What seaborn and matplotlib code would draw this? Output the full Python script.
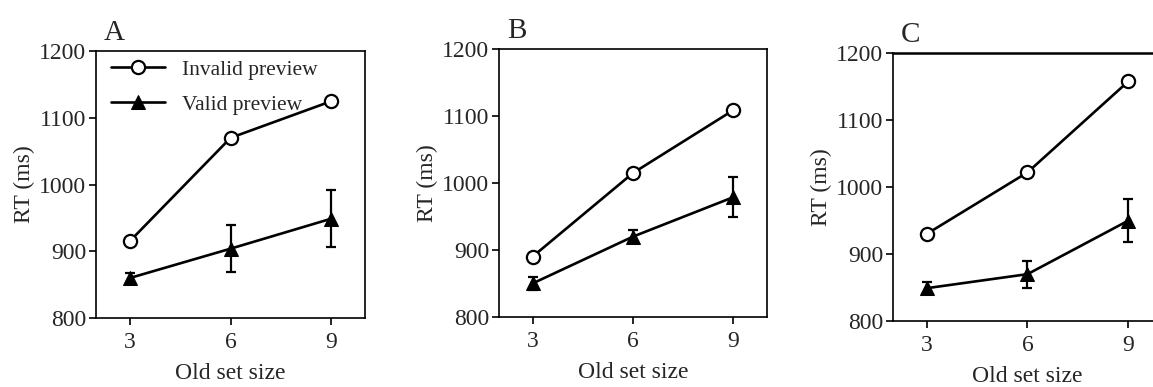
import matplotlib
matplotlib.use("Agg")
import matplotlib.pyplot as plt
import seaborn as sns
import pandas as pd
import numpy as np

sns.set_theme(style="ticks")
plt.rcParams["font.family"] = ["Liberation Serif", "DejaVu Serif"]

# data
set_sizes = [3, 6, 9]
panels = ["A", "B", "C"]
invalid_rt = {"A": [915, 1070, 1125], "B": [890, 1015, 1109], "C": [930, 1022, 1158]}
valid_rt = {"A": [860, 904, 949], "B": [850, 920, 979], "C": [849, 870, 950]}
valid_err = {"A": [8, 35, 43], "B": [9, 10, 30], "C": [9, 20, 32]}
yticks = [800, 900, 1000, 1100, 1200]

# axes positions (figure fractions)
positions = {
    "A": [0.0833, 0.178, 0.2333, 0.690],
    "B": [0.4328, 0.181, 0.2324, 0.692],
    "C": [0.7745, 0.1705, 0.2333, 0.692],
}

fig = plt.figure(figsize=(11.53, 3.87), dpi=100)

for p in panels:
    ax = fig.add_axes(positions[p])
    df = pd.DataFrame({
        "size": set_sizes * 2,
        "rt": invalid_rt[p] + valid_rt[p],
        "cond": ["Invalid preview"] * 3 + ["Valid preview"] * 3,
    })
    ax.errorbar(set_sizes, valid_rt[p], yerr=valid_err[p], fmt="none",
                ecolor="black", elinewidth=1.6, capsize=3.5, capthick=1.6, zorder=1)
    sns.lineplot(data=df[df.cond == "Invalid preview"], x="size", y="rt", ax=ax,
                 color="black", lw=1.9, marker="o", markersize=9.5,
                 markerfacecolor="white", markeredgecolor="black", markeredgewidth=1.6,
                 label="Invalid preview", zorder=3)
    sns.lineplot(data=df[df.cond == "Valid preview"], x="size", y="rt", ax=ax,
                 color="black", lw=1.9, marker="^", markersize=10,
                 markerfacecolor="black", markeredgecolor="black",
                 label="Valid preview", zorder=3)

    ax.set_xlim(2, 10)
    ax.set_ylim(800, 1200)
    ax.set_xticks(set_sizes)
    ax.set_yticks(yticks)
    ax.set_xlabel("Old set size", fontsize=17, labelpad=7)
    ax.set_ylabel("RT (ms)", fontsize=17, labelpad=3)
    ax.tick_params(labelsize=17, direction="out", length=5, width=1.2, color="black", pad=2)
    ax.tick_params(axis="x", pad=5)
    for s in ax.spines.values():
        s.set_color("black")
        s.set_linewidth(1.2)
    if p == "C":
        ax.spines["top"].set_linewidth(1.8)

    ax.text(0.03, 1.02, p, transform=ax.transAxes, fontsize=21, ha="left", va="bottom")

    if p == "A":
        ax.legend(loc="upper left", bbox_to_anchor=(0.0, 1.025), frameon=False,
                  fontsize=15.5, handlelength=2.5, labelspacing=0.7, handletextpad=0.8,
                  borderaxespad=0.3)
    else:
        ax.get_legend().remove()

fig.savefig("out.png", dpi=100)
